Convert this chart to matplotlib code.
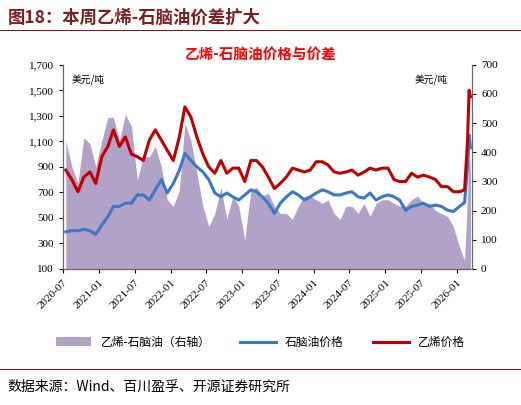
import matplotlib
matplotlib.use("Agg")
import matplotlib.pyplot as plt
import pandas as pd

plt.rcParams['font.family'] = ['Liberation Serif', 'Noto Sans CJK SC']

months = pd.date_range("2020-07-01", "2026-01-01", freq="MS") + pd.Timedelta(days=14)
extra_dates = pd.to_datetime(["2026-02-10", "2026-02-25", "2026-03-05", "2026-03-12"])
dates = list(months) + list(extra_dates)

ethylene = [875, 800, 705, 820, 860, 770, 980, 1060, 1190, 1060, 1135, 1000,
            980, 950, 1110, 1190, 1110, 1030, 950, 1135, 1370, 1290, 1135, 1000,
            900, 850, 950, 850, 890, 890, 785, 950, 950, 900, 820, 730,
            770, 820, 890, 875, 860, 875, 940, 940, 915, 860, 850, 860,
            875, 835, 860, 890, 875, 890, 890, 800, 785, 785, 850, 820,
            835, 820, 800, 745, 745, 705, 705,
            720, 1100, 1500, 1450]
naphtha = [390, 400, 400, 410, 400, 370, 445, 510, 590, 590, 615, 615,
           680, 680, 640, 720, 800, 695, 770, 875, 1005, 950, 900, 860,
           800, 695, 665, 695, 665, 640, 680, 720, 705, 665, 615, 535,
           615, 665, 705, 680, 640, 665, 695, 720, 705, 680, 680, 695,
           705, 665, 655, 695, 640, 665, 680, 665, 640, 560, 590, 600,
           615, 590, 600, 590, 560, 550, 590,
           620, 900, 1150, 1050]
spread = [440, 350, 295, 450, 430, 350, 440, 520, 520, 440, 530, 490,
          305, 385, 385, 420, 350, 237, 215, 270, 500, 440, 330, 215,
          145, 190, 280, 170, 250, 215, 100, 270, 280, 250, 260, 215,
          190, 190, 170, 215, 250, 250, 237, 225, 237, 190, 170, 215,
          215, 190, 225, 180, 225, 237, 237, 225, 215, 215, 237, 250,
          225, 225, 200, 190, 180, 145, 75,
          30, 250, 420, 330]

xticks = pd.date_range("2020-07-01", "2026-01-01", freq="6MS")

fig = plt.figure(figsize=(5.21, 4.05), dpi=100)
ax = fig.add_axes([0.121, 0.336, 0.785, 0.504])
ax2 = ax.twinx()
ax.set_zorder(2); ax2.set_zorder(1); ax.patch.set_visible(False)

ax2.fill_between(dates, spread, 0, color='#b3a2c7', lw=0, label='乙烯-石脑油（右轴）')
ax.plot(dates, naphtha, color='#3a78c8', lw=2.2, label='石脑油价格')
ax.plot(dates, ethylene, color='#c00000', lw=2.2, label='乙烯价格')

ax.set_ylim(100, 1700); ax.set_yticks(range(100, 1701, 200))
ax.set_yticklabels([f"{v:,}" for v in range(100, 1701, 200)])
ax2.set_ylim(0, 700); ax2.set_yticks(range(0, 701, 100))
ax.set_xlim(pd.Timestamp("2020-07-01"), pd.Timestamp("2026-03-20"))
ax.set_xticks(xticks)
ax.set_xticklabels([d.strftime("%Y-%m") for d in xticks], rotation=45, ha='right', rotation_mode='anchor')
for a in (ax, ax2):
    a.tick_params(labelsize=8, length=3)
    for s in a.spines.values():
        s.set_color('#666666')
ax.spines['top'].set_visible(False); ax2.spines['top'].set_visible(False)

ax.text(0.02, 0.95, '美元/吨', transform=ax.transAxes, fontsize=7, va='top', family=['Noto Sans CJK SC'])
ax.text(0.86, 0.95, '美元/吨', transform=ax.transAxes, fontsize=7, va='top', family=['Noto Sans CJK SC'])
fig.text(0.5, 0.855, '乙烯-石脑油价格与价差', color='#ff0000', fontsize=10.5, ha='center', fontweight='bold', family=['Noto Sans CJK SC'])

fig.text(0.015, 0.955, '图18：本周乙烯-石脑油价差扩大', fontsize=12.5, fontweight='bold', color='#7b1f1f', va='center', family=['Noto Sans CJK SC'])
fig.add_artist(plt.Line2D([0.0, 1.0], [0.925, 0.925], color='#7b1f1f', lw=0.8))
fig.add_artist(plt.Line2D([0.0, 1.0], [0.09, 0.09], color='#7b1f1f', lw=0.8))
fig.text(0.015, 0.045, '数据来源：Wind、百川盈孚、开源证券研究所', fontsize=10, va='center', family=['Noto Sans CJK SC'])

h1, l1 = ax.get_legend_handles_labels()
h2, l2 = ax2.get_legend_handles_labels()
leg = fig.legend(h2 + h1, l2 + l1, loc='center', bbox_to_anchor=(0.5, 0.155), ncol=3, frameon=False,
                 prop={'family': 'Noto Sans CJK SC', 'size': 8.5}, handlelength=3, columnspacing=2.5)
fig.savefig("out.png", dpi=100)
